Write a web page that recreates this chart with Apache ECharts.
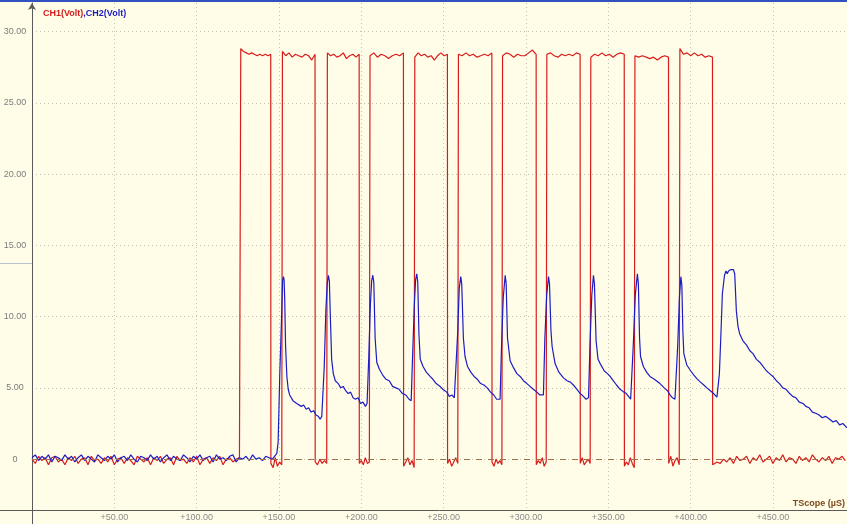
<!DOCTYPE html>
<html>
<head>
<meta charset="utf-8">
<title>CH1 / CH2 scope trace</title>
<script src="https://cdn.jsdelivr.net/npm/echarts@6.0.0/dist/echarts.min.js"></script>
<style>
  html, body { margin: 0; padding: 0; background: #fffde8; }
  #chart { width: 847px; height: 524px; }
</style>
</head>
<body>
<div id="chart"></div>
<script>
// time axis ticks (µs) and voltage axis range
const timeMax = 495;
const timeStep = 50;
const voltMin = -3.57;
const voltMax = 32;

// sample spacing for idle stretches (µs), CH1 edge transition times (µs)
const sampleStep = 2;
const riseTime = 0.4;
const fallTime = 0.1;

// CH1 (red) - idle noise before the first pulse, t = 0 .. 126
const ch1Lead = [
  0.0, -0.3, 0.2, -0.1, 0.1, -0.4, 0.1, 0.2, -0.2, 0.0,
  -0.4, 0.1, -0.1, 0.2, -0.3, 0.0, 0.1, -0.4, 0.2, -0.1,
  0.0, -0.3, 0.1, -0.2, 0.2, -0.4, 0.0, 0.1, -0.3, 0.1,
  -0.1, -0.4, 0.2, 0.0, -0.2, 0.1, -0.4, 0.1, -0.1, 0.2,
  -0.3, 0.0, 0.1, -0.4, 0.2, -0.1, 0.0, -0.3, 0.1, -0.2,
  0.2, -0.4, 0.0, 0.1, -0.3, 0.1, -0.1, 0.2, -0.4, 0.0,
  0.1, -0.2, 0.0, 0.1
];

// CH1 pulses: [rise, fall] in µs
const ch1Edges = [
  [126.4, 145.0], [151.7, 171.9], [179.0, 198.7], [204.9, 225.6],
  [232.1, 252.3], [258.6, 279.3], [285.4, 306.2], [312.3, 332.9],
  [339.0, 359.7], [365.8, 386.6], [393.1, 413.3]
];

// CH1 high level readings on each pulse
const ch1Top = [
  [28.8, 28.6, 28.5, 28.4, 28.5, 28.4, 28.3, 28.4, 28.3, 28.4, 28.3, 28.4],
  [28.6, 28.3, 28.5, 28.2, 28.4, 28.3, 28.2, 28.4, 28.3, 28.0, 28.4],
  [28.5, 28.3, 28.4, 28.2, 28.3, 28.5, 28.1, 28.3, 28.4, 28.2, 28.4],
  [28.3, 28.5, 28.2, 28.4, 28.3, 28.1, 28.3, 28.4, 28.3, 28.5],
  [28.2, 28.5, 28.3, 28.4, 28.2, 28.3, 28.0, 28.3, 28.5, 28.3, 28.4],
  [28.4, 28.3, 28.5, 28.3, 28.4, 28.2, 28.3, 28.4, 28.3, 28.5],
  [28.3, 28.5, 28.4, 28.2, 28.4, 28.3, 28.3, 28.5, 28.7, 28.4],
  [28.4, 28.5, 28.3, 28.2, 28.4, 28.3, 28.4, 28.3, 28.5, 28.4],
  [28.2, 28.4, 28.3, 28.5, 28.3, 28.4, 28.2, 28.4, 28.5, 28.4],
  [28.3, 28.2, 28.3, 28.2, 28.1, 28.2, 28.0, 28.2, 28.3, 28.2],
  [28.8, 28.4, 28.5, 28.3, 28.5, 28.3, 28.4, 28.2, 28.3, 28.2]
];

// CH1 low level readings in the gaps between pulses
const ch1Gap = [
  [-0.3, -0.6, 0.1, -0.5, -0.2, -0.4],
  [-0.2, -0.4, 0.0, -0.3, -0.1, -0.3],
  [-0.3, -0.1, -0.4, 0.1, -0.3, -0.2],
  [-0.5, -0.2, 0.1, -0.4, -0.1, -0.6],
  [-0.3, 0.0, -0.5, -0.2, 0.1, -0.3],
  [-0.2, -0.5, 0.0, -0.3, -0.1, -0.4],
  [-0.4, -0.1, -0.3, 0.1, -0.5, -0.2],
  [-0.3, 0.1, -0.4, -0.2, 0.0, -0.3],
  [-0.5, -0.2, -0.4, 0.1, -0.3, -0.6],
  [-0.3, 0.2, -0.5, -0.1, 0.1, -0.4]
];

// CH1 idle noise after the last pulse, t = 414 .. 494
const ch1TailStart = 414;
const ch1Tail = [
  -0.4, -0.2, -0.3, 0.0, -0.2, 0.1, -0.3, 0.2, -0.1, 0.0,
  0.2, -0.3, 0.1, -0.1, 0.3, -0.2, 0.0, 0.2, -0.3, 0.1,
  -0.1, 0.3, -0.2, 0.1, 0.0, -0.3, 0.2, -0.1, 0.1, -0.2,
  0.3, 0.0, -0.2, 0.1, -0.1, 0.2, -0.3, 0.1, 0.0, 0.2,
  -0.1
];

// CH2 (blue) - idle noise, t = 0 .. 146
const ch2Lead = [
  0.1, 0.3, -0.1, 0.2, 0.0, 0.3, -0.2, 0.2, 0.1, -0.1,
  0.3, 0.0, 0.2, -0.2, 0.1, 0.3, -0.1, 0.2, 0.0, -0.2,
  0.3, 0.1, -0.1, 0.2, 0.0, 0.3, -0.2, 0.1, 0.2, -0.1,
  0.3, 0.0, -0.2, 0.2, 0.1, -0.1, 0.3, 0.0, 0.2, -0.2,
  0.1, 0.3, -0.1, 0.2, 0.0, -0.1, 0.3, 0.1, -0.2, 0.2,
  0.0, 0.3, -0.1, 0.1, 0.2, -0.2, 0.3, 0.0, 0.1, -0.1,
  0.2, 0.3, -0.2, 0.1, 0.0, 0.2, -0.1, 0.3, 0.0, 0.1,
  -0.1, 0.2, 0.1, 0.0
];

// CH2 response after the first pulse: [t µs, volt]
const ch2Trace = [
  [148.7, 0.4], [149.5, 1.2], [150.5, 6.0], [151.5, 9.6], [152.2, 12.5], [152.7, 12.8], [153.1, 12.6],
  [153.5, 11.2], [154.0, 8.0], [154.8, 5.8], [155.6, 4.9], [156.5, 4.5], [157.5, 4.4], [158.5, 4.1],
  [159.5, 4.2], [160.8, 3.9], [162, 4.0], [163.5, 3.7], [165, 3.8], [166.5, 3.5], [168, 3.6],
  [169.5, 3.3], [171, 3.4], [172.5, 3.1], [173.9, 3.0], [175, 2.8], [176.0, 3.0], [176.6, 3.1],
  [177.5, 6.5], [178.5, 10.5], [179.3, 12.3], [180.0, 12.9], [180.6, 12.5], [181.2, 10.0], [182.0, 7.0],
  [183.0, 6.0], [184.2, 5.5], [186, 5.3], [187.5, 5.0], [189, 5.1], [190.5, 4.8], [192, 4.6],
  [193.5, 4.7], [195, 4.3], [196.5, 4.2], [198, 4.3], [199.5, 3.9], [201, 4.0], [202.5, 3.7], [203.5, 3.9],
  [204.5, 7.0], [205.5, 10.8], [206.3, 12.5], [207.0, 12.9], [207.6, 12.4], [208.4, 8.5], [209.4, 6.8],
  [211, 6.3], [213, 5.9], [215, 5.6], [217, 5.5], [219, 5.1], [221, 5.0], [223, 4.9], [225, 4.6],
  [227, 4.5], [229, 4.2], [230.3, 4.1],
  [231.1, 7.0], [232.2, 10.8], [233.0, 12.6], [233.7, 13.0], [234.3, 12.4], [235.0, 8.8], [235.8, 7.0],
  [237.5, 6.5], [239.5, 6.1], [241.8, 5.8], [243.5, 5.6], [245.5, 5.3], [247.9, 5.1], [249.5, 4.9],
  [251.9, 4.7], [253.5, 4.4], [255, 4.5], [256.5, 4.3], [257.5, 4.4],
  [258.6, 9.0], [259.5, 12.0], [260.4, 12.8], [261.0, 12.3], [262.0, 8.5], [263.0, 7.2], [264.5, 6.5],
  [266.5, 6.1], [268.5, 5.8], [270.5, 5.6], [272.5, 5.3], [274.5, 5.2], [276.5, 5.0], [278.5, 4.7],
  [280.5, 4.5], [282.2, 4.2], [283.2, 4.1], [284.3, 4.2],
  [285.2, 8.0], [286.2, 11.3], [287.4, 12.9], [288.0, 12.3], [288.8, 8.5], [290.4, 6.9], [292.5, 6.4],
  [294.5, 6.0], [296.5, 5.8], [298.5, 5.5], [300.6, 5.3], [302.5, 5.1], [304.5, 4.9], [306.6, 4.7],
  [308.5, 4.5], [309.7, 4.4], [310.6, 4.5],
  [311.5, 8.5], [312.6, 11.5], [313.7, 12.8], [314.3, 12.3], [315.2, 9.0], [315.9, 7.9], [317.7, 6.7],
  [320, 6.1], [322.8, 5.7], [325, 5.5], [327, 5.4], [328.8, 5.2], [331, 4.9], [333, 4.6], [334.9, 4.4],
  [336.5, 4.2], [337.5, 4.3], [338.0, 4.3],
  [338.9, 8.0], [340.0, 11.5], [341.0, 12.9], [341.6, 12.3], [342.6, 8.3], [343.8, 7.0], [345.1, 6.7],
  [347.5, 6.2], [349.5, 6.0], [351.1, 5.8], [353, 5.5], [355, 5.2], [357.2, 4.9], [359.5, 4.7],
  [361, 4.6], [362.3, 4.4], [363.6, 4.2], [364.3, 4.3],
  [365.2, 8.0], [366.4, 11.5], [367.7, 13.0], [368.3, 12.3], [369.0, 8.5], [369.6, 7.2], [371.3, 6.5],
  [373.3, 6.1], [375.3, 5.8], [378, 5.6], [381.4, 5.3], [384, 5.0], [386, 4.8], [387.5, 4.5],
  [389, 4.3], [390.5, 4.2], [391.3, 4.3],
  [392.2, 8.0], [393.2, 11.3], [394.1, 12.8], [394.7, 12.2], [395.3, 9.0], [395.9, 7.4], [397.7, 6.6],
  [400, 6.2], [402, 5.9], [403.8, 5.65], [406, 5.4], [408, 5.2], [409.9, 5.0], [412, 4.8], [414, 4.6],
  [416.0, 4.35], [416.9, 4.3],
  [417.5, 6.0], [418.5, 9.0], [419.3, 11.6], [420.6, 12.9], [421.5, 13.2], [422.3, 13.0], [423.0, 13.2],
  [423.8, 13.1], [424.5, 13.3], [425.3, 13.2], [426.0, 13.3], [426.8, 13.0], [427.8, 10.4], [428.8, 9.3],
  [429.8, 8.8], [431.8, 8.3], [434, 8.0], [436, 7.6], [437.9, 7.4], [440, 7.0], [442, 6.8], [444, 6.5],
  [446.0, 6.2], [448, 6.0], [450, 5.8], [452.1, 5.5], [454, 5.3], [456, 5.0], [458, 4.9], [460.2, 4.6],
  [462, 4.4], [464, 4.3], [466, 4.0], [468.3, 3.9], [470, 3.7], [472, 3.6], [474, 3.3], [476.4, 3.2],
  [478, 3.1], [480, 2.9], [482, 3.0], [484.5, 2.8], [486.5, 2.6], [488.5, 2.7], [490.5, 2.4],
  [492.5, 2.5], [495, 2.2]
];

// spread readings over a time span, first at start, last at end
function spread(values, start, end) {
  const n = values.length;
  return values.map((v, j) => [j === n - 1 ? end : start + (end - start) * j / (n - 1), v]);
}

function buildCh1() {
  const pts = ch1Lead.map((v, i) => [i * sampleStep, v]);
  let last = ch1Lead[ch1Lead.length - 1];
  ch1Edges.forEach(([rise, fall], k) => {
    pts.push([rise, last]);
    pts.push(...spread(ch1Top[k], rise + riseTime, fall));
    if (k < ch1Gap.length) {
      const gap = ch1Gap[k];
      pts.push(...spread(gap, fall + fallTime, ch1Edges[k + 1][0]));
      last = gap[gap.length - 1];
    } else {
      pts.push([fall + fallTime, ch1Tail[0]]);
    }
  });
  ch1Tail.forEach((v, i) => pts.push([ch1TailStart + i * sampleStep, v]));
  return pts;
}

function buildCh2() {
  const pts = ch2Lead.map((v, i) => [i * sampleStep, v]);
  return pts.concat(ch2Trace);
}

const myChart = echarts.init(document.getElementById("chart"), null, { renderer: "canvas" });

myChart.setOption({
  backgroundColor: "#fffde8",
  animation: false,
  title: {
    left: 38,
    top: 4,
    text: "{a|CH1(Volt)}{b|,CH2(Volt)}",
    textStyle: {
      rich: {
        a: { color: "#d01c1c", fontSize: 9, fontWeight: "bold", fontFamily: "Liberation Sans" },
        b: { color: "#1c1cc4", fontSize: 9, fontWeight: "bold", fontFamily: "Liberation Sans" },
      },
    },
  },
  grid: { left: 32, right: 0, top: 3, bottom: 14, containLabel: false },
  xAxis: {
    type: "value",
    min: 0,
    max: timeMax,
    interval: timeStep,
    axisLine: { onZero: false, lineStyle: { color: "#5a5a5a", width: 1 } },
    axisTick: { show: false },
    axisLabel: {
      margin: 3,
      color: "#8a8a8a",
      fontSize: 9,
      fontFamily: "Liberation Sans",
      showMaxLabel: false,
      formatter: (v) => (v === 0 || v % timeStep !== 0 ? "" : "+" + v.toFixed(2)),
    },
    splitLine: {
      show: true,
      showMinLine: false,
      showMaxLine: false,
      lineStyle: { color: "#c4c4b4", type: [1, 3], width: 1 },
    },
  },
  yAxis: {
    type: "value",
    min: voltMin,
    max: voltMax,
    splitNumber: 7,
    axisLine: {
      show: true,
      onZero: false,
      symbol: ["none", "arrow"],
      symbolSize: [6, 7],
      lineStyle: { color: "#5a5a5a", width: 1 },
    },
    axisTick: { show: false },
    axisLabel: {
      margin: 17,
      align: "center",
      color: "#7c7c7c",
      fontSize: 9,
      fontFamily: "Liberation Sans",
      showMinLabel: false,
      showMaxLabel: false,
      formatter: (v) => (v % 5 !== 0 ? "" : v === 0 ? "0" : v.toFixed(2)),
    },
    splitLine: {
      show: true,
      showMinLine: false,
      showMaxLine: false,
      lineStyle: { color: "#c4c4b4", type: [1, 3], width: 1 },
    },
  },
  graphic: [
    { type: "rect", left: 0, top: 0, shape: { width: 847, height: 2 }, style: { fill: "#2f52c0" }, silent: true },
    { type: "line", shape: { x1: 0, y1: 263.5, x2: 32, y2: 263.5 }, style: { stroke: "#b8c4d0", lineWidth: 1 }, silent: true },
    { type: "line", shape: { x1: 0, y1: 510.5, x2: 32, y2: 510.5 }, style: { stroke: "#5a5a5a", lineWidth: 1 }, silent: true },
    { type: "line", shape: { x1: 32.5, y1: 510, x2: 32.5, y2: 524 }, style: { stroke: "#5a5a5a", lineWidth: 1 }, silent: true },
    {
      type: "text",
      right: 2,
      top: 499,
      style: { text: "TScope (µS)", fill: "#7b4a1e", font: "bold 9px 'Liberation Sans'" },
      silent: true,
    },
  ],
  series: [
    {
      name: "CH1(Volt)",
      type: "line",
      data: buildCh1(),
      showSymbol: false,
      symbol: "none",
      lineStyle: { color: "#d81c1c", width: 1.2 },
      markLine: {
        silent: true,
        symbol: ["none", "none"],
        label: { show: false },
        lineStyle: { color: "#a0704a", type: [6, 6], width: 1 },
        data: [{ yAxis: 0 }],
      },
    },
    {
      name: "CH2(Volt)",
      type: "line",
      data: buildCh2(),
      showSymbol: false,
      symbol: "none",
      lineStyle: { color: "#1c1cc4", width: 1.2 },
    },
  ],
});
</script>
</body>
</html>
